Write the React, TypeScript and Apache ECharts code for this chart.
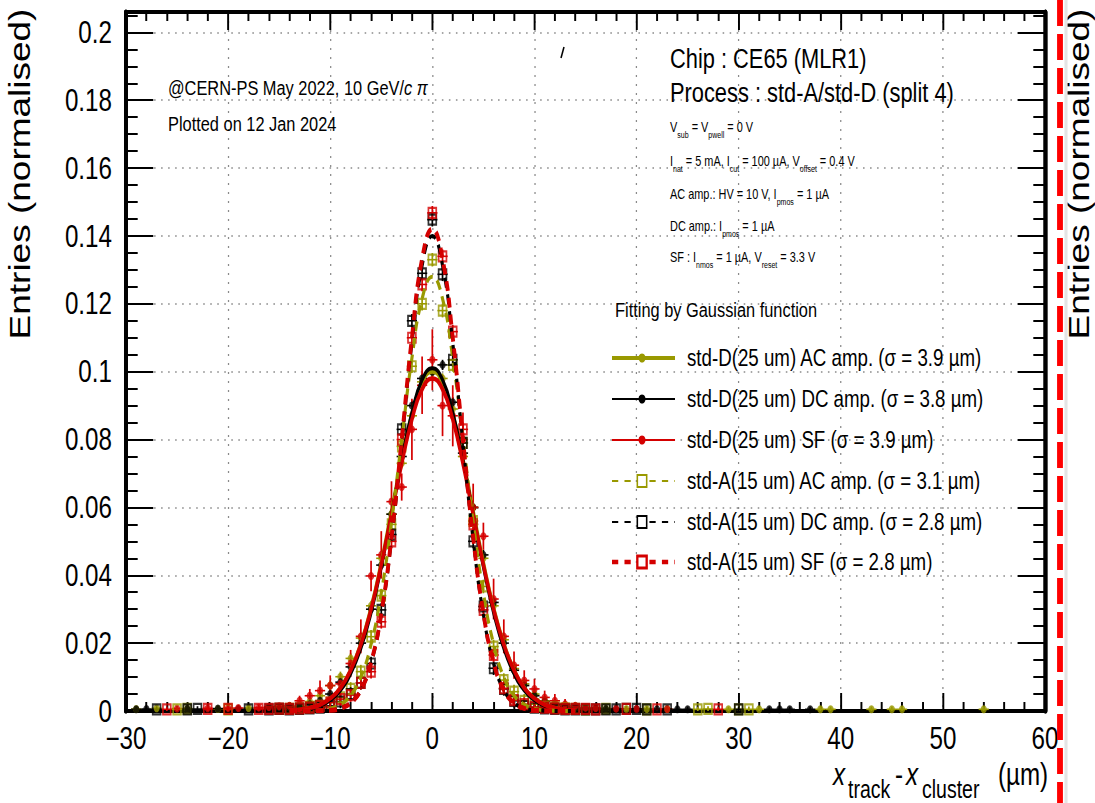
import React, { useEffect, useRef } from "react";
import * as echarts from "echarts";

// The reference picture is squeezed horizontally; we draw on a wider canvas and squeeze it back.
const PAGE_W = 1095;
const PAGE_H = 803;
const CHART_W = 1404;
const SQ = PAGE_W / CHART_W;
const ux = (px: number) => px / SQ;
const FONT = '"Liberation Sans", Arimo, Helvetica, Arial, sans-serif';

const OLIVE = "#999900";
const BLACK = "#000000";
const RED = "#d40000";

// axes
const X_MIN = -30, X_MAX = 60, X_STEP = 10;
const Y_MIN = 0, Y_MAX = 0.206, Y_STEP = 0.02, Y_MINOR = 0.005;

// bin centres (µm) of the central region
const binCentres = [-14,-13,-12,-11,-10,-9,-8,-7,-6,-5,-4,-3,-2,-1,0,1,2,3,4,5,6,7,8,9,10,11,12,13,14];

// std-D (25 um) data points
const dAcVals = [0.001,0.0015,0.0028,0.0045,0.0075,0.0101,0.0155,0.0215,0.031,0.045,0.058,0.073,0.087,0.097,0.1,0.098,0.089,0.075,0.06,0.045,0.031,0.021,0.0125,0.008,0.005,0.003,0.002,0.0015,0.001];
const dDcVals = [0.0008,0.0012,0.002,0.003,0.005,0.0085,0.013,0.02,0.03,0.043,0.058,0.075,0.09,0.098,0.1,0.102,0.091,0.076,0.06,0.046,0.032,0.02,0.012,0.0075,0.0045,0.0028,0.0018,0.0012,0.0008];
const dSfVals = [0.0015,0.003,0.0045,0.006,0.0075,0.008,0.014,0.022,0.0398,0.046,0.0617,0.066,0.083,0.096,0.1035,0.09,0.087,0.08,0.06,0.0515,0.033,0.022,0.0135,0.009,0.0065,0.004,0.003,0.002,0.0015];
const dSfErr = [0.001,0.0015,0.002,0.003,0.003,0.003,0.004,0.005,0.0045,0.007,0.006,0.004,0.009,0.0085,0.009,0.009,0.009,0.008,0.007,0.004,0.006,0.005,0.004,0.003,0.003,0.002,0.002,0.0015,0.001];

// std-A (15 um) data points
const aAcVals = [0.0006,0.0008,0.001,0.0015,0.0025,0.004,0.0065,0.0116,0.0219,0.034,0.055,0.078,0.1016,0.12,0.133,0.118,0.102,0.079,0.056,0.0367,0.019,0.0091,0.0057,0.003,0.002,0.0012,0.001,0.0008,0.0006];
const aDcVals = [0.0005,0.0006,0.0008,0.001,0.0015,0.0028,0.005,0.0083,0.014,0.0298,0.052,0.083,0.115,0.129,0.1448,0.1287,0.1035,0.079,0.05,0.0308,0.0126,0.0065,0.003,0.0015,0.001,0.0008,0.0006,0.0005,0.0005];
const aSfVals = [0.0006,0.0008,0.001,0.0015,0.0025,0.0035,0.0047,0.0083,0.0116,0.0263,0.05,0.08,0.11,0.1257,0.1468,0.134,0.1118,0.083,0.055,0.0298,0.0165,0.0067,0.0032,0.002,0.0012,0.001,0.0008,0.0006,0.0006];

// sparse tail bins
const dAcTailX = [-29,-27,-24,-21,-18,-16,-15,15,16,17,19,21,23,29,32,38,39,43,45,46,54];
const dAcTailY = [0.0006,0.0008,0.0007,0.0006,0.0009,0.0011,0.0012,0.0009,0.0008,0.0007,0.0006,0.0006,0.0006,0.0005,0.0005,0.0005,0.0005,0.0005,0.0005,0.0005,0.0005];
const dDcTailX = [-29,-28,-24,-21,-19,-16,-15,15,16,17,18,20,22,24,25,33,34,35,37];
const dDcTailY = [0.0005,0.0006,0.0006,0.0007,0.0006,0.0008,0.0007,0.0007,0.0006,0.0006,0.0005,0.0006,0.0005,0.0005,0.0005,0.0005,0.0005,0.0005,0.0005];
const dSfTailX = [-25,-22,-20,-19,-17,-16,-15,15,16,18,20,23];
const dSfTailY = [0.0007,0.0008,0.0009,0.0009,0.001,0.0012,0.0014,0.001,0.0009,0.0007,0.0006,0.0006];
const aAcTailX = [-25,-24,-20,-15,15,17,21,26,27,30,31];
const aAcTailY = [0.0005,0.0006,0.0005,0.0006,0.0005,0.0006,0.0005,0.0005,0.0006,0.0005,0.0005];
const aDcTailX = [-27,-24,-23,-18,-16,-15,15,16,17,18,19,20,21,23,30];
const aDcTailY = [0.0005,0.0005,0.0006,0.0005,0.0005,0.0006,0.0005,0.0005,0.0005,0.0005,0.0006,0.0006,0.0005,0.0005,0.0005];
const aSfTailX = [-26,-22,-20,-17,-16,-15,15,16,19,22,28];
const aSfTailY = [0.0005,0.0006,0.0006,0.0006,0.0006,0.0007,0.0006,0.0005,0.0006,0.0005,0.0005];

// vertical error sizes for the series drawn with a single error size
const ERR_D = 0.0015;
const ERR_A = 0.002;
const ERR_TAIL = 0.0008;

// Gaussian fit curves, read at the bin centres
const dAcFit = [0.0002,0.0004,0.0009,0.0019,0.0037,0.007,0.0122,0.02,0.0306,0.044,0.0591,0.0744,0.0877,0.0968,0.1,0.0968,0.0877,0.0744,0.0591,0.044,0.0306,0.02,0.0122,0.007,0.0037,0.0019,0.0009,0.0004,0.0002];
const dDcFit = [0.0001,0.0003,0.0007,0.0015,0.0032,0.0061,0.011,0.0185,0.029,0.0425,0.058,0.074,0.0879,0.0976,0.101,0.0976,0.0879,0.074,0.058,0.0425,0.029,0.0185,0.011,0.0061,0.0032,0.0015,0.0007,0.0003,0.0001];
const dSfFit = [0.0002,0.0004,0.0009,0.0018,0.0037,0.0068,0.012,0.0196,0.03,0.0431,0.0579,0.0729,0.0859,0.0948,0.098,0.0948,0.0859,0.0729,0.0579,0.0431,0.03,0.0196,0.012,0.0068,0.0037,0.0018,0.0009,0.0004,0.0002];
const aAcFit = [0,0,0.0001,0.0002,0.0007,0.0019,0.0046,0.01,0.0197,0.0348,0.0557,0.08,0.104,0.1215,0.128,0.1215,0.104,0.08,0.0557,0.0348,0.0197,0.01,0.0046,0.0019,0.0007,0.0002,0.0001,0,0];
const aDcFit = [0,0,0,0.0001,0.0002,0.0008,0.0024,0.0062,0.0141,0.0284,0.0504,0.0788,0.1085,0.1313,0.14,0.1313,0.1085,0.0788,0.0504,0.0284,0.0141,0.0062,0.0024,0.0008,0.0002,0.0001,0,0,0];
const aSfFit = [0,0,0,0.0001,0.0002,0.0008,0.0024,0.0062,0.0143,0.0288,0.0511,0.08,0.11,0.1332,0.142,0.1332,0.11,0.08,0.0511,0.0288,0.0143,0.0062,0.0024,0.0008,0.0002,0.0001,0,0,0];

const legendLabels = [
  "std-D(25 um) AC amp. (\u03c3 = 3.9 \u00b5m)",
  "std-D(25 um) DC amp. (\u03c3 = 3.8 \u00b5m)",
  "std-D(25 um) SF (\u03c3 = 3.9 \u00b5m)",
  "std-A(15 um) AC amp. (\u03c3 = 3.1 \u00b5m)",
  "std-A(15 um) DC amp. (\u03c3 = 2.8 \u00b5m)",
  "std-A(15 um) SF (\u03c3 = 2.8 \u00b5m)",
];

type DS = {
  vals: number[]; errs: number[]; tailX: number[]; tailY: number[]; fit: number[];
  color: string; open: boolean; fitWidth: number; dashed: boolean;
  legendWidth: number;
};

const datasets: DS[] = [
  { vals: dAcVals, errs: binCentres.map(() => ERR_D), tailX: dAcTailX, tailY: dAcTailY, fit: dAcFit, color: OLIVE, open: false, fitWidth: 4, dashed: false, legendWidth: 4 },
  { vals: dDcVals, errs: binCentres.map(() => ERR_D), tailX: dDcTailX, tailY: dDcTailY, fit: dDcFit, color: BLACK, open: false, fitWidth: 4, dashed: false, legendWidth: 2 },
  { vals: dSfVals, errs: dSfErr, tailX: dSfTailX, tailY: dSfTailY, fit: dSfFit, color: RED, open: false, fitWidth: 4.5, dashed: false, legendWidth: 2 },
  { vals: aAcVals, errs: binCentres.map(() => ERR_A), tailX: aAcTailX, tailY: aAcTailY, fit: aAcFit, color: OLIVE, open: true, fitWidth: 4, dashed: true, legendWidth: 2 },
  { vals: aDcVals, errs: binCentres.map(() => ERR_A), tailX: aDcTailX, tailY: aDcTailY, fit: aDcFit, color: BLACK, open: true, fitWidth: 4, dashed: true, legendWidth: 2 },
  { vals: aSfVals, errs: binCentres.map(() => ERR_A), tailX: aSfTailX, tailY: aSfTailY, fit: aSfFit, color: RED, open: true, fitWidth: 5, dashed: true, legendWidth: 4.5 },
];

function buildSeries(): any[] {
  const out: any[] = [];
  datasets.forEach((d, k) => {
    const pts: number[][] = binCentres.map((x, i) => [x, d.vals[i], d.errs[i]]);
    d.tailX.forEach((x, i) => pts.push([x, d.tailY[i], ERR_TAIL]));
    const color = d.color;
    out.push({
      type: "custom",
      name: "err" + k,
      data: pts,
      clip: true,
      silent: true,
      z: 2,
      encode: { x: 0, y: 1 },
      renderItem: (params: any, api: any) => {
        const x = api.value(0), y = api.value(1), e = api.value(2);
        const top = api.coord([x, y + e]);
        const bot = api.coord([x, Math.max(0, y - e)]);
        const l = api.coord([x - 0.5, y]);
        const r = api.coord([x + 0.5, y]);
        return {
          type: "group",
          children: [
            { type: "line", shape: { x1: top[0], y1: top[1], x2: bot[0], y2: bot[1] }, style: { stroke: color, lineWidth: 2.2 } },
            { type: "line", shape: { x1: l[0], y1: l[1], x2: r[0], y2: r[1] }, style: { stroke: color, lineWidth: 1.6 } },
          ],
        };
      },
    });
    out.push({
      type: "scatter",
      name: "pts" + k,
      data: pts.map((p) => [p[0], p[1]]),
      symbol: d.open ? "rect" : "circle",
      symbolSize: d.open ? 10 : 8,
      silent: true,
      z: 3,
      itemStyle: d.open
        ? { color: "rgba(255,255,255,0)", borderColor: color, borderWidth: 2.2 }
        : { color: color },
    });
    out.push({
      type: "line",
      name: "fit" + k,
      data: binCentres.map((x, i) => [x, d.fit[i]]),
      showSymbol: false,
      symbol: "none",
      smooth: 0.5,
      silent: true,
      z: 4,
      lineStyle: { color: color, width: d.fitWidth, type: d.dashed ? [10, 7] : "solid" },
    });
  });
  return out;
}

function buildGraphic(): any[] {
  const canvas = document.createElement("canvas");
  const ctx = canvas.getContext("2d") as CanvasRenderingContext2D;
  const measure = (t: string, fs: number, it: boolean) => {
    ctx.font = `${it ? "italic " : ""}${fs}px ${FONT}`;
    return ctx.measureText(t).width;
  };
  const txt = (t: string, x: number, y: number, fs: number, o: any = {}) => ({
    type: "text",
    x, y,
    z: 100,
    silent: true,
    rotation: o.rot || 0,
    style: {
      text: t,
      fill: o.color || "#000",
      fontSize: fs,
      fontFamily: FONT,
      fontStyle: o.it ? "italic" : "normal",
      align: o.align || "left",
      textAlign: o.align || "left",
      verticalAlign: "middle",
      textVerticalAlign: "middle",
    },
  });
  type Seg = { t: string; fs: number; dy?: number; it?: boolean };
  const run = (segs: Seg[], x0: number, y: number) => {
    let x = x0;
    const els: any[] = [];
    segs.forEach((s) => {
      els.push(txt(s.t, x, y + (s.dy || 0), s.fs, { it: s.it }));
      x += measure(s.t, s.fs, !!s.it);
    });
    return els;
  };
  const els: any[] = [];

  // axis titles
  els.push(txt("Entries (normalised)", ux(20), 174, 37, { rot: Math.PI / 2, align: "center" }));
  els.push(txt("Entries (normalised)", ux(1079), 174, 37, { rot: Math.PI / 2, align: "center" }));
  els.push(txt("x", ux(833), 774, 31, { it: true }));
  els.push(txt("track", ux(848), 790, 25));
  els.push(txt("-", ux(895), 774, 31));
  els.push(txt("x", ux(906), 774, 31, { it: true }));
  els.push(txt("cluster", ux(922), 790, 25));
  els.push(txt("(\u00b5m)", ux(998), 774, 31));

  // beam / date annotation
  els.push(...run([
    { t: "@CERN-PS May 2022, 10 GeV/", fs: 21 },
    { t: "c", fs: 21, it: true },
    { t: " ", fs: 21 },
    { t: "\u03c0", fs: 21, it: true },
  ], ux(168), 88));
  els.push(txt("Plotted on 12 Jan 2024", ux(168), 124, 21));

  // chip description
  els.push(txt("Chip : CE65 (MLR1)", ux(670), 58, 28));
  els.push(txt("Process : std-A/std-D (split 4)", ux(670), 92, 28));
  const B = 14, S = 9, D = 7;
  const paramLines: Seg[][] = [
    [{ t: "V", fs: B }, { t: "sub", fs: S, dy: D }, { t: " = V", fs: B }, { t: "pwell", fs: S, dy: D }, { t: " = 0 V", fs: B }],
    [{ t: "I", fs: B }, { t: "nat", fs: S, dy: D }, { t: " = 5 mA, I", fs: B }, { t: "cut", fs: S, dy: D }, { t: " = 100 \u00b5A, V", fs: B }, { t: "offset", fs: S, dy: D }, { t: " = 0.4 V", fs: B }],
    [{ t: "AC amp.: HV = 10 V, I", fs: B }, { t: "pmos", fs: S, dy: D }, { t: " = 1 \u00b5A", fs: B }],
    [{ t: "DC amp.: I", fs: B }, { t: "pmos", fs: S, dy: D }, { t: " = 1 \u00b5A", fs: B }],
    [{ t: "SF : I", fs: B }, { t: "nmos", fs: S, dy: D }, { t: " = 1 \u00b5A, V", fs: B }, { t: "reset", fs: S, dy: D }, { t: " = 3.3 V", fs: B }],
  ];
  const paramY = [128, 162, 195, 227, 258];
  paramLines.forEach((segs, i) => els.push(...run(segs, ux(670), paramY[i])));

  // legend
  els.push(txt("Fitting by Gaussian function", ux(615), 310, 21));
  const rowY = [358, 399, 440, 481, 522, 562];
  const lx1 = ux(612), lx2 = ux(675), mx = ux(642), tx = ux(687);
  datasets.forEach((d, i) => {
    const y = rowY[i];
    els.push({
      type: "line", z: 100, silent: true,
      shape: { x1: lx1, y1: y, x2: lx2, y2: y },
      style: { stroke: d.color, lineWidth: d.legendWidth, lineDash: d.dashed ? [8, 8] : null },
    });
    if (d.open) {
      els.push({
        type: "rect", z: 101, silent: true,
        shape: { x: mx - 6, y: y - 6, width: 12, height: 12 },
        style: { fill: "#fff", stroke: d.color, lineWidth: d.legendWidth > 3 ? 3 : 2 },
      });
    } else {
      els.push({
        type: "circle", z: 101, silent: true,
        shape: { cx: mx, cy: y, r: 4.5 },
        style: { fill: d.color },
      });
    }
    els.push(txt(legendLabels[i], tx, y, 24));
  });

  // small stray tick mark in the reference
  els.push({ type: "line", z: 100, silent: true, shape: { x1: ux(561), y1: 58, x2: ux(564), y2: 47 }, style: { stroke: "#000", lineWidth: 2 } });

  // red dashed divider and its light shadow at the right edge
  els.push({ type: "line", z: 100, silent: true, shape: { x1: ux(1066), y1: 0, x2: ux(1066), y2: PAGE_H }, style: { stroke: "#e4e4e4", lineWidth: 4 } });
  els.push({ type: "line", z: 101, silent: true, shape: { x1: ux(1060), y1: 0, x2: ux(1060), y2: PAGE_H }, style: { stroke: "#ff0000", lineWidth: 7.5, lineDash: [26, 8] } });

  return els;
}

function buildOption(): any {
  const fmtX = (v: number) => String(v).replace("-", "\u2212");
  const fmtY = (v: number) => String(Number(v.toFixed(3)));
  const grid = "#8a8a8a";
  const axisX = (pos: string, labels: boolean) => ({
    type: "value",
    position: pos,
    min: X_MIN, max: X_MAX, interval: X_STEP,
    axisLine: { show: true, onZero: false, lineStyle: { color: "#000", width: 4 } },
    axisTick: { show: true, inside: true, length: 18, lineStyle: { color: "#000", width: 2.5 } },
    minorTick: { show: true, splitNumber: 5, length: 9, lineStyle: { color: "#000", width: 2.5 } },
    axisLabel: { show: labels, fontSize: 31, fontFamily: FONT, color: "#000", margin: 12, formatter: fmtX },
    splitLine: { show: labels, lineStyle: { color: grid, width: 1.6, type: [2, 7] } },
  });
  const axisY = (pos: string, step: number, major: boolean, labels: boolean) => ({
    type: "value",
    position: pos,
    min: Y_MIN, max: Y_MAX, interval: step,
    axisLine: { show: true, onZero: false, lineStyle: { color: "#000", width: 5 } },
    axisTick: { show: true, inside: true, length: major ? 35 : 15, lineStyle: { color: "#000", width: 2 } },
    minorTick: { show: false },
    axisLabel: { show: labels, fontSize: 31, fontFamily: FONT, color: "#000", margin: 18, formatter: fmtY, showMaxLabel: false },
    splitLine: { show: labels, lineStyle: { color: grid, width: 1.6, type: [2, 7] } },
  });
  return {
    animation: false,
    backgroundColor: "#ffffff",
    grid: { left: ux(126), right: CHART_W - ux(1045), top: 12, bottom: PAGE_H - 711, containLabel: false },
    xAxis: [axisX("bottom", true), axisX("top", false)],
    yAxis: [
      axisY("left", Y_STEP, true, true),
      axisY("right", Y_STEP, true, false),
      axisY("left", Y_MINOR, false, false),
      axisY("right", Y_MINOR, false, false),
    ],
    series: buildSeries(),
    graphic: buildGraphic(),
  };
}

export default function App() {
  const ref = useRef<HTMLDivElement>(null);
  useEffect(() => {
    const chart = echarts.init(ref.current as HTMLDivElement, null, { renderer: "svg", width: CHART_W, height: PAGE_H });
    chart.setOption(buildOption());
    return () => chart.dispose();
  }, []);
  return (
    <div style={{ position: "absolute", left: 0, top: 0, width: PAGE_W, height: PAGE_H, overflow: "hidden", background: "#fff" }}>
      <div
        ref={ref}
        style={{ width: CHART_W, height: PAGE_H, transform: `scaleX(${SQ})`, transformOrigin: "0 0" }}
      />
    </div>
  );
}
